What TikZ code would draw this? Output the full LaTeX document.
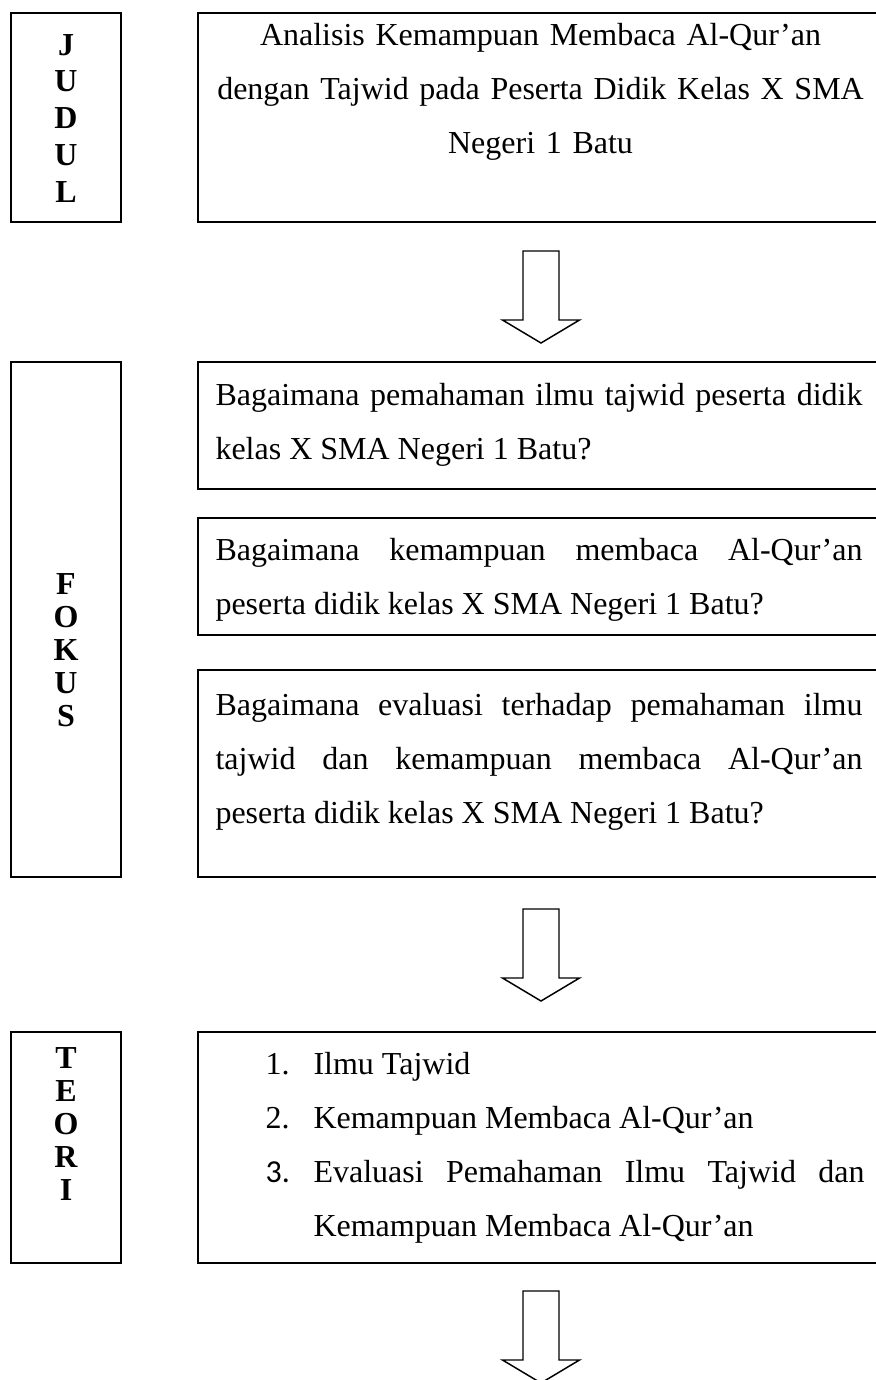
\documentclass[tikz,border=0pt]{standalone}
\usepackage{fontspec}
\setmainfont{Liberation Serif}
\newfontfamily\numfont{Carlito}
\usetikzlibrary{fit}

\tikzset{
  frame/.style={draw=black, line width=0.75pt, inner sep=0pt},
  letter/.style={font=\fontsize{12pt}{14pt}\selectfont\bfseries, inner sep=0pt, anchor=base},
  body/.style={font=\fontsize{12pt}{20.4pt}\selectfont, inner sep=0pt, anchor=base west},
  hollowarrow/.style={draw=black, line width=0.55pt, fill=white, line join=miter}
}

\begin{document}
\begin{tikzpicture}[x=0.375pt, y=-0.375pt]
    \useasboundingbox (0,0) rectangle (876,1380);
    \clip (0,0) rectangle (876,1380);

    % Judul
    \node[frame, fit={(11,13) (121,222)}] (judulbox) {};
    \node[frame, fit={(198,13) (877,222)}] (titlebox) {};
    \foreach \ch [count=\i] in {J,U,D,U,L}
        \node[letter] (judul\i) at (66, 18.25+36.75*\i) {\ch};
    \node[body, text width=243.75pt, align=center] (title) at (215,45)
        {Analisis Kemampuan Membaca Al-Qur’an\\
         dengan Tajwid pada Peserta Didik Kelas X SMA\\
         Negeri 1 Batu};

    % Fokus
    \node[frame, fit={(11,362) (121,877)}] (fokusbox) {};
    \node[frame, fit={(198,362) (877,489)}] (qonebox) {};
    \node[frame, fit={(198,518) (877,635)}] (qtwobox) {};
    \node[frame, fit={(198,670) (877,877)}] (qthreebox) {};
    \foreach \ch [count=\i] in {F,O,K,U,S}
        \node[letter] (fokus\i) at (66, 561.5+33*\i) {\ch};
    \node[body, text width=242.6pt, align=justify] (qone) at (215,405)
        {Bagaimana pemahaman ilmu tajwid peserta didik\linebreak
         kelas X SMA Negeri 1 Batu?};
    \node[body, text width=242.6pt, align=justify] (qtwo) at (215,560)
        {Bagaimana kemampuan membaca Al-Qur’an\linebreak
         peserta didik kelas X SMA Negeri 1 Batu?};
    \node[body, text width=242.6pt, align=justify] (qthree) at (215,715)
        {Bagaimana evaluasi terhadap pemahaman ilmu\linebreak
         tajwid dan kemampuan membaca Al-Qur’an\linebreak
         peserta didik kelas X SMA Negeri 1 Batu?};

    % Teori
    \node[frame, fit={(11,1032) (121,1263)}] (teoribox) {};
    \node[frame, fit={(198,1032) (877,1263)}] (listbox) {};
    \foreach \ch [count=\i] in {T,E,O,R,I}
        \node[letter] (teori\i) at (66, 1035.5+33*\i) {\ch};
    \node[body] (numone) at (265,1074) {1.};
    \node[body] (itemone) at (313,1074) {Ilmu Tajwid};
    \node[body] (numtwo) at (265,1128) {2.};
    \node[body] (itemtwo) at (313,1128) {Kemampuan Membaca Al-Qur’an};
    \node[body, font=\fontsize{12pt}{20.4pt}\numfont] (numthree) at (265,1182) {3.};
    \node[body, text width=206.6pt, align=justify] (itemthree) at (313,1182)
        {Evaluasi Pemahaman Ilmu Tajwid dan\linebreak
         Kemampuan Membaca Al-Qur’an};

    % Arrows between the blocks
    \coordinate (arrowA) at (541,251);
    \coordinate (arrowB) at (541,909);
    \coordinate (arrowC) at (541,1291);
    \foreach \a in {arrowA,arrowB,arrowC}
        \draw[hollowarrow] (\a) ++(-18,0) -- ++(0,69) -- ++(-20.5,0)
            -- ++(38.5,23) -- ++(38.5,-23) -- ++(-20.5,0) -- ++(0,-69) -- cycle;
\end{tikzpicture}
\end{document}
